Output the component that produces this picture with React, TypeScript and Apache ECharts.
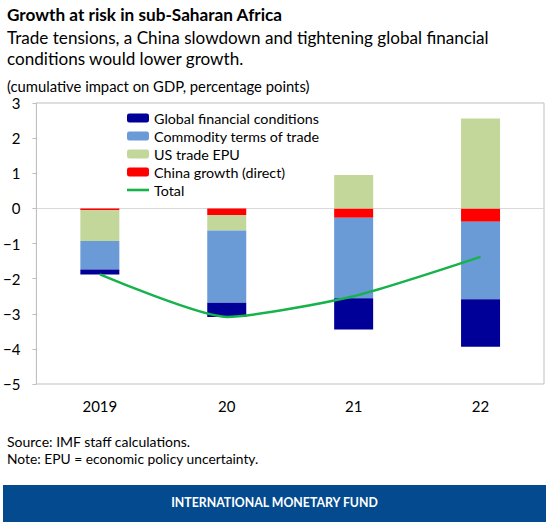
import React, { useEffect, useRef } from "react";
import * as echarts from "echarts";

const categories = ["2019", "20", "21", "22"];
const chinaGrowth = [-0.05, -0.19, -0.27, -0.38];
const usTradeEpu = [-0.88, -0.44, 0.95, 2.56];
const commodityTot = [-0.81, -2.06, -2.29, -2.21];
const globalFin = [-0.14, -0.4, -0.89, -1.35];
const total = [-1.88, -3.09, -2.5, -1.38];

const FONT = "Lato, 'Open Sans', sans-serif";
const GREEN_LINE = "#16B24B";

export default function App() {
  const ref = useRef<HTMLDivElement>(null);
  useEffect(() => {
    if (!ref.current) return;
    const chart = echarts.init(ref.current, undefined, { renderer: "svg" });
    const barCommon = {
      type: "bar",
      stack: "s",
      barWidth: 39,
    };
    chart.setOption({
      animation: false,
      textStyle: { fontFamily: FONT },
      grid: { left: 36, right: 6, top: 103, bottom: 143, show: true, borderColor: "#bfbfbf", borderWidth: 1 },
      legend: {
        orient: "vertical",
        left: 122,
        top: 106,
        itemWidth: 22,
        itemHeight: 9,
        itemGap: 4,
        textStyle: { fontSize: 14.3, color: "#000", fontFamily: FONT },
        data: [
          "Global financial conditions",
          "Commodity terms of trade",
          "US trade EPU",
          "China growth (direct)",
          { name: "Total", icon: "path://M0,0L22,0L22,2.6L0,2.6Z", itemStyle: { color: GREEN_LINE } },
        ],
      },
      xAxis: {
        type: "category",
        data: categories,
        axisLine: { show: false },
        axisTick: { show: false },
        axisLabel: { fontSize: 15, color: "#000", margin: 14, fontFamily: FONT },
      },
      yAxis: {
        type: "value",
        min: -5,
        max: 3,
        interval: 1,
        axisLine: { show: true, lineStyle: { color: "#bfbfbf" } },
        axisTick: { show: true, length: 4, lineStyle: { color: "#bfbfbf" } },
        splitLine: { show: false },
        axisLabel: {
          fontSize: 15,
          color: "#000",
          margin: 16,
          fontFamily: FONT,
          formatter: (v: number) => (v < 0 ? "\u2212" + Math.abs(v) : String(v)),
        },
      },
      series: [
        {
          ...barCommon,
          name: "China growth (direct)",
          data: chinaGrowth,
          itemStyle: { color: "#FF0000" },
          markLine: {
            silent: true,
            symbol: "none",
            label: { show: false },
            lineStyle: { color: "#d9d9d9", type: "solid", width: 1 },
            data: [{ yAxis: 0 }],
            z: 0,
          },
        },
        { ...barCommon, name: "US trade EPU", data: usTradeEpu, itemStyle: { color: "#C4D79B" } },
        { ...barCommon, name: "Commodity terms of trade", data: commodityTot, itemStyle: { color: "#6A9BD6" } },
        { ...barCommon, name: "Global financial conditions", data: globalFin, itemStyle: { color: "#000099" } },
        {
          type: "line",
          name: "Total",
          data: total,
          symbol: "none",
          smooth: 0.2,
          lineStyle: { color: GREEN_LINE, width: 2.5 },
          itemStyle: { color: GREEN_LINE },
          z: 5,
        },
      ],
      graphic: [
        {
          type: "text",
          x: 7,
          y: 14,
          style: { text: "Growth at risk in sub-Saharan Africa", fontFamily: FONT, fontWeight: "bold", fontSize: 17.2, fill: "#000", verticalAlign: "middle" },
        },
        {
          type: "text",
          x: 7,
          y: 37.5,
          style: { text: "Trade tensions, a China slowdown and tightening global financial", fontFamily: FONT, fontSize: 17.1, fill: "#000", verticalAlign: "middle" },
        },
        {
          type: "text",
          x: 7,
          y: 58.5,
          style: { text: "conditions would lower growth.", fontFamily: FONT, fontSize: 17.1, fill: "#000", verticalAlign: "middle" },
        },
        {
          type: "text",
          x: 7,
          y: 86,
          style: { text: "(cumulative impact on GDP, percentage points)", fontFamily: FONT, fontSize: 14.8, fill: "#000", verticalAlign: "middle" },
        },
        {
          type: "text",
          x: 7,
          y: 441,
          style: { text: "Source: IMF staff calculations.", fontFamily: FONT, fontSize: 14, fill: "#000", verticalAlign: "middle" },
        },
        {
          type: "text",
          x: 7,
          y: 458.5,
          style: { text: "Note: EPU = economic policy uncertainty.", fontFamily: FONT, fontSize: 13.8, fill: "#000", verticalAlign: "middle" },
        },
        {
          type: "rect",
          shape: { x: 3, y: 485, width: 543, height: 37 },
          style: { fill: "#034A8E" },
        },
        {
          type: "text",
          x: 274.5,
          y: 502.5,
          style: { text: "INTERNATIONAL MONETARY FUND", fontFamily: FONT, fontWeight: "bold", fontSize: 12.3, fill: "#fff", align: "center", verticalAlign: "middle" },
        },
      ],
    });
    return () => chart.dispose();
  }, []);
  return <div ref={ref} style={{ position: "absolute", left: 0, top: 0, width: 550, height: 527, background: "#fff" }} />;
}
